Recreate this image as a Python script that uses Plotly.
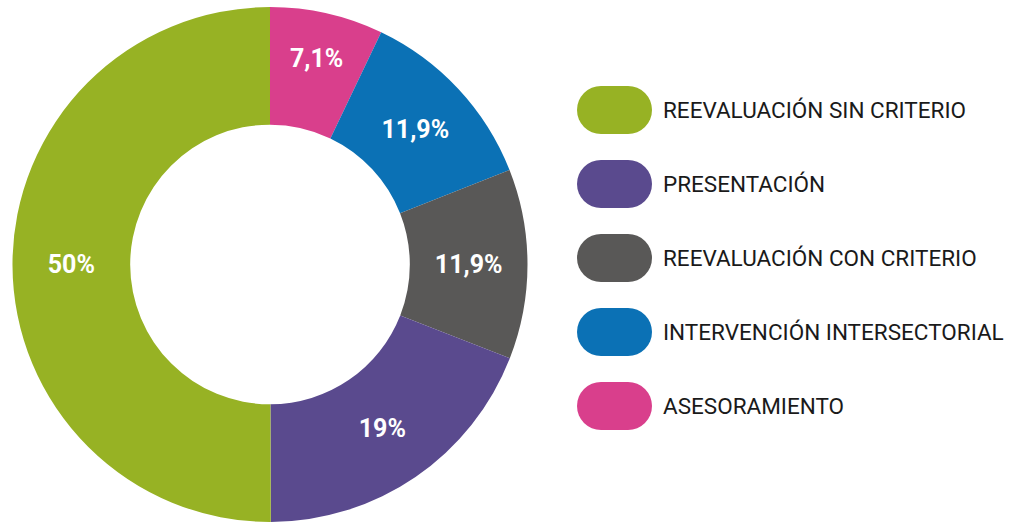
import plotly.graph_objects as go

labels = ["ASESORAMIENTO", "INTERVENCIÓN INTERSECTORIAL", "REEVALUACIÓN CON CRITERIO",
          "PRESENTACIÓN", "REEVALUACIÓN SIN CRITERIO"]
values = [7.1, 11.9, 11.9, 19, 50]
text_labels = ["7,1%", "11,9%", "11,9%", "19%", "50%"]
colors = ["#D93F8C", "#0B71B5", "#595857", "#5A4A8E", "#97B224"]
legend_order = ["REEVALUACIÓN SIN CRITERIO", "PRESENTACIÓN", "REEVALUACIÓN CON CRITERIO",
                "INTERVENCIÓN INTERSECTORIAL", "ASESORAMIENTO"]

W, H = 1011, 522
FONT = "Roboto, Arial, sans-serif"

fig = go.Figure(go.Pie(
    labels=labels, values=values, text=text_labels,
    textinfo="text", textposition="inside", insidetextorientation="horizontal",
    marker=dict(colors=colors, line=dict(width=0)),
    hole=0.543, sort=False, direction="clockwise", rotation=0,
    textfont=dict(family=FONT, size=25, color="white", weight="bold"),
    domain=dict(x=[12 / W, 528 / W], y=[0, 1 - 7 / H]),
    showlegend=False, hoverinfo="label+value",
))

shapes, annotations = [], []
color_map = dict(zip(labels, colors))
for i, name in enumerate(legend_order):
    cy = 110 + 74 * i
    c = color_map[name]
    y0, y1 = 1 - (cy + 24) / H, 1 - (cy - 24) / H
    for x0, x1 in [(577, 625), (604, 652)]:
        shapes.append(dict(type="circle", xref="paper", yref="paper",
                           x0=x0 / W, x1=x1 / W, y0=y0, y1=y1,
                           fillcolor=c, line=dict(width=0)))
    shapes.append(dict(type="rect", xref="paper", yref="paper",
                       x0=601 / W, x1=628 / W, y0=y0, y1=y1,
                       fillcolor=c, line=dict(width=0)))
    annotations.append(dict(text=name, xref="paper", yref="paper",
                            x=661 / W, y=1 - cy / H, xanchor="left", yanchor="middle",
                            showarrow=False,
                            font=dict(family=FONT, size=22.5, color="#1a1a1a")))

fig.update_layout(
    width=W, height=H, margin=dict(l=0, r=0, t=0, b=0),
    paper_bgcolor="white", plot_bgcolor="white",
    uniformtext=dict(minsize=22, mode="show"),
    shapes=shapes, annotations=annotations,
)
fig.write_html("out.html", config={"displayModeBar": False},
               post_script="document.body.style.margin='0';")
